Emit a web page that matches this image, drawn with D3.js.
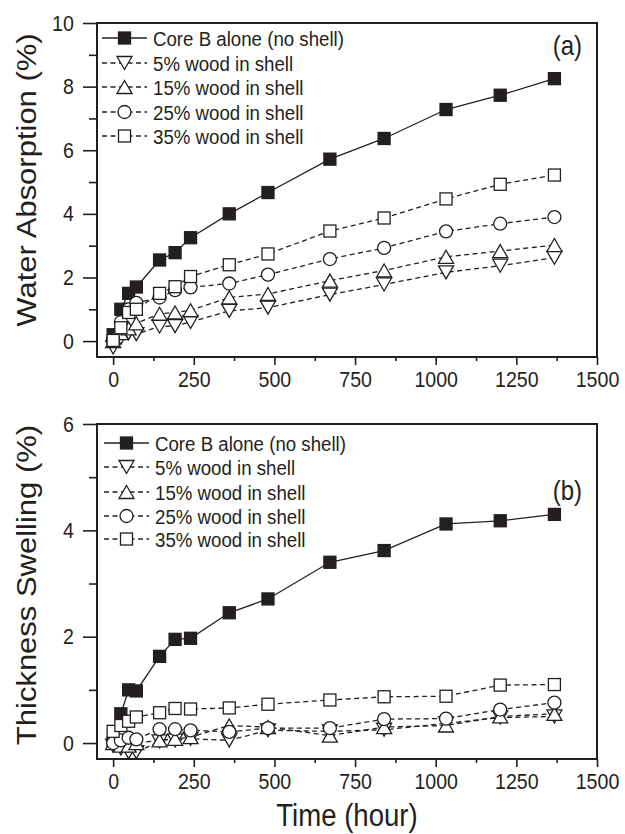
<!DOCTYPE html>
<html lang="en">
<head>
  <meta charset="UTF-8">
  <title>Water Absorption and Thickness Swelling</title>
  <script src="https://d3js.org/d3.v7.min.js"></script>
  <style>
    body {
      margin: 0;
      padding: 0;
      background: #fff;
    }
    svg text {
      font-family: "Liberation Sans", Arial, sans-serif;
      fill: #231f20;
    }
  </style>
</head>
<body>
  <div id="chart"></div>

  <script>
    // time points (hour)
    const hours = [0, 24, 48, 72, 144, 192, 240, 360, 480, 672, 840, 1032, 1200, 1368];

    const seriesNames = [
      "Core B alone (no shell)",
      "5% wood in shell",
      "15% wood in shell",
      "25% wood in shell",
      "35% wood in shell"
    ];

    // (a) water absorption (%)
    const absCore = [0.2, 1.0, 1.5, 1.7, 2.55, 2.78, 3.25, 4.0, 4.67, 5.72, 6.37, 7.28, 7.73, 8.25];
    const abs5 = [-0.2, 0.1, 0.25, 0.22, 0.46, 0.47, 0.6, 0.95, 1.05, 1.46, 1.78, 2.16, 2.37, 2.62];
    const abs15 = [0.0, 0.25, 0.4, 0.56, 0.86, 0.9, 0.97, 1.37, 1.48, 1.9, 2.22, 2.65, 2.83, 3.02];
    const abs25 = [0.05, 0.6, 1.0, 1.2, 1.37, 1.6, 1.69, 1.81, 2.09, 2.58, 2.93, 3.45, 3.69, 3.9];
    const abs35 = [0.02, 0.42, 0.9, 1.0, 1.5, 1.71, 2.03, 2.4, 2.74, 3.46, 3.87, 4.47, 4.93, 5.22];

    // (b) thickness swelling (%)
    const swCore = [0.0, 0.55, 1.0, 0.98, 1.63, 1.95, 1.97, 2.45, 2.71, 3.4, 3.62, 4.12, 4.18, 4.3];
    const sw5 = [-0.05, -0.1, -0.17, -0.17, 0.03, 0.05, 0.08, 0.05, 0.24, 0.22, 0.25, 0.37, 0.48, 0.5];
    const sw15 = [0.0, -0.05, -0.05, 0.0, 0.05, 0.08, 0.11, 0.33, 0.3, 0.14, 0.3, 0.33, 0.5, 0.55];
    const sw25 = [0.0, 0.05, 0.1, 0.07, 0.26, 0.26, 0.24, 0.21, 0.28, 0.28, 0.45, 0.46, 0.63, 0.76];
    const sw35 = [0.22, 0.33, 0.41, 0.49, 0.57, 0.65, 0.64, 0.66, 0.73, 0.81, 0.87, 0.88, 1.09, 1.10];

    const xTicks = [0, 250, 500, 750, 1000, 1250, 1500];
    const xMinor = [125, 375, 625, 875, 1125, 1375];
    const absTicks = [0, 2, 4, 6, 8, 10];
    const absMinor = [1, 3, 5, 7, 9];
    const swTicks = [0, 2, 4, 6];
    const swMinor = [1, 3, 5];

    const ink = "#231f20";
    const squeeze = 0.89; // glyphs in the picture are a bit narrow
    const symbols = ["filledSquare", "down", "up", "circle", "square"];

    const W = 625, H = 834;
    const left = 97, right = 597;

    const svg = d3.select("#chart")
      .append("svg")
      .attr("width", W)
      .attr("height", H);

    const x = d3.scaleLinear().domain([-50, 1500]).range([left, right]);
    const fmt = d3.format("d");

    // marker shapes, centred on the bounding box
    function marker(g, type, cx, cy) {
      const s = 6;
      if (type === "filledSquare" || type === "square") {
        g.append("rect")
          .attr("x", cx - s).attr("y", cy - s)
          .attr("width", 2 * s).attr("height", 2 * s)
          .attr("fill", type === "filledSquare" ? ink : "#fff")
          .attr("stroke", ink).attr("stroke-width", 1.3);
      } else if (type === "circle") {
        g.append("circle")
          .attr("cx", cx).attr("cy", cy).attr("r", 6.5)
          .attr("fill", "#fff")
          .attr("stroke", ink).attr("stroke-width", 1.3);
      } else {
        const hw = 7.5, hh = 6.5;
        const p = type === "up"
          ? `M${cx},${cy - hh}L${cx + hw},${cy + hh}L${cx - hw},${cy + hh}Z`
          : `M${cx},${cy + hh}L${cx + hw},${cy - hh}L${cx - hw},${cy - hh}Z`;
        g.append("path")
          .attr("d", p)
          .attr("fill", "#fff")
          .attr("stroke", ink).attr("stroke-width", 1.3);
      }
    }

    function panel(cfg) {
      const y = d3.scaleLinear().domain(cfg.yDomain).range([cfg.bottom, cfg.top]);
      const g = svg.append("g");

      // axes
      const ax = g.append("g").attr("transform", `translate(0,${cfg.bottom})`);
      ax.call(d3.axisBottom(x).tickValues(xTicks).tickSize(8).tickPadding(6).tickFormat(fmt));
      ax.append("g").call(d3.axisBottom(x).tickValues(xMinor).tickSize(4).tickFormat(""));

      const ay = g.append("g").attr("transform", `translate(${left},0)`);
      ay.call(d3.axisLeft(y).tickValues(cfg.ticks).tickSize(14).tickPadding(12).tickFormat(fmt));
      ay.append("g").call(d3.axisLeft(y).tickValues(cfg.minor).tickSize(8).tickFormat(""));

      g.selectAll(".domain").remove();
      g.selectAll(".tick line").attr("stroke", ink).attr("stroke-width", 1.6);
      g.selectAll(".tick text")
        .attr("font-size", 22)
        .attr("fill", ink)
        .attr("transform", `scale(${squeeze},1)`);

      // frame
      g.append("rect")
        .attr("x", left).attr("y", cfg.top)
        .attr("width", right - left).attr("height", cfg.bottom - cfg.top)
        .attr("fill", "none").attr("stroke", ink).attr("stroke-width", 2);

      // y title
      g.append("text")
        .attr("transform", `translate(36,${cfg.titleY}) rotate(-90) scale(1,${squeeze})`)
        .attr("text-anchor", "middle")
        .attr("font-size", 31)
        .text(cfg.title);

      // panel label
      g.append("text")
        .attr("transform", `translate(582,${cfg.labelY}) scale(${squeeze},1)`)
        .attr("text-anchor", "end")
        .attr("font-size", 27)
        .text(cfg.label);

      const line = d3.line().x((d, i) => x(hours[i])).y(d => y(d));

      // series, drawn in legend order so later ones sit on top
      cfg.series.forEach((vals, k) => {
        const sg = g.append("g");
        sg.append("path")
          .datum(vals)
          .attr("d", line)
          .attr("fill", "none")
          .attr("stroke", ink)
          .attr("stroke-width", 1.3)
          .attr("stroke-dasharray", k === 0 ? null : "5,3.5");
        vals.forEach((v, i) => marker(sg, symbols[k], x(hours[i]), y(v)));
      });

      // legend
      const lg = g.append("g");
      seriesNames.forEach((name, k) => {
        const ly = cfg.legendY[k];
        lg.append("line")
          .attr("x1", cfg.legendX).attr("x2", cfg.legendX + 45)
          .attr("y1", ly).attr("y2", ly)
          .attr("stroke", ink).attr("stroke-width", 1.3)
          .attr("stroke-dasharray", k === 0 ? null : "5,3.5");
        marker(lg, symbols[k], cfg.legendX + 22.5, ly);
        lg.append("text")
          .attr("transform", `translate(${cfg.legendX + 51},${ly}) scale(${squeeze},1)`)
          .attr("dy", "0.36em")
          .attr("font-size", 21)
          .text(name);
      });
    }

    panel({
      top: 23, bottom: 357,
      yDomain: [-0.5, 10],
      ticks: absTicks, minor: absMinor,
      title: "Water Absorption (%)", titleY: 180,
      label: "(a)", labelY: 55,
      series: [absCore, abs5, abs15, abs25, abs35],
      legendX: 102, legendY: [38, 63, 87, 112, 136]
    });

    panel({
      top: 424, bottom: 759,
      yDomain: [-0.3, 6],
      ticks: swTicks, minor: swMinor,
      title: "Thickness Swelling (%)", titleY: 585,
      label: "(b)", labelY: 500,
      series: [swCore, sw5, sw15, sw25, sw35],
      legendX: 104, legendY: [443, 467, 492, 516, 539]
    });

    svg.append("text")
      .attr("transform", `translate(${(left + right) / 2},826) scale(${squeeze},1)`)
      .attr("text-anchor", "middle")
      .attr("font-size", 31)
      .text("Time (hour)");
  </script>
</body>
</html>
